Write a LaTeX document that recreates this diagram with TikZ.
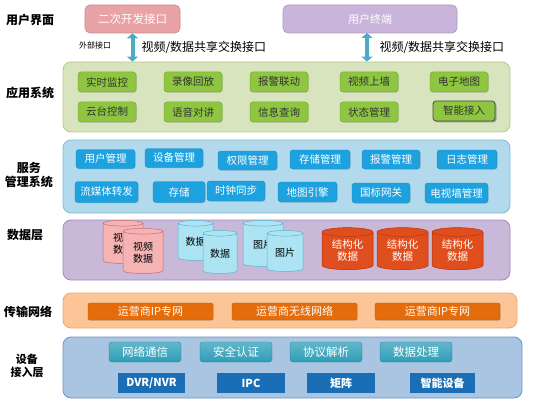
\documentclass[tikz,border=0pt]{standalone}
\usepackage{fontspec}
\setmainfont{Noto Sans CJK SC}
\usetikzlibrary{shapes.geometric,shadows,arrows.meta}
\definecolor{pinkbox}{HTML}{E9A3A7}
\definecolor{purplebox}{HTML}{C9B5DB}
\definecolor{arrowc}{HTML}{4BACC6}
\definecolor{appout}{HTML}{D7E4BD}
\definecolor{appoutd}{HTML}{B3CB8C}
\definecolor{appin}{HTML}{8EC641}
\definecolor{appind}{HTML}{76AD2E}
\definecolor{svcout}{HTML}{B2DAEC}
\definecolor{svcoutd}{HTML}{7DBCD8}
\definecolor{svcin}{HTML}{1EA2DF}
\definecolor{dataout}{HTML}{CAB8D9}
\definecolor{dataoutd}{HTML}{A08CBC}
\definecolor{pinkcyl}{HTML}{F6B3B4}
\definecolor{pinkcyld}{HTML}{C86A6C}
\definecolor{bluecyl}{HTML}{ADE4F4}
\definecolor{bluecyld}{HTML}{57B1CB}
\definecolor{orcyl}{HTML}{E04E1E}
\definecolor{orcyld}{HTML}{B43A12}
\definecolor{netout}{HTML}{FBC597}
\definecolor{netoutd}{HTML}{F0A86A}
\definecolor{netin}{HTML}{E46C0A}
\definecolor{devout}{HTML}{AAC5E2}
\definecolor{devoutd}{HTML}{6A96C4}
\definecolor{devin}{HTML}{2E9EB8}
\definecolor{devin2}{HTML}{1A6EB5}
\tikzset{
  layer/.style={rectangle, rounded corners=8pt, line width=0.8pt, inner sep=0pt},
  toplbl/.style={font=\bfseries\fontsize{12}{14}\selectfont, align=center, text=black},
  topbox/.style={rectangle, rounded corners=5pt, minimum height=28pt, text=white, font=\fontsize{11.5}{13}\selectfont, line width=0.6pt},
  appbox/.style={rectangle, rounded corners=3pt, minimum width=58pt, minimum height=20pt, fill=appin, draw=appind, line width=0.5pt, text=black!80, font=\fontsize{10.5}{12}\selectfont, drop shadow={shadow xshift=0.8pt, shadow yshift=-0.8pt, opacity=0.25}},
  svcbox/.style={rectangle, rounded corners=3pt, minimum height=19pt, fill=svcin, draw=svcin!85!black, line width=0.4pt, text=white, font=\fontsize{10.5}{12}\selectfont, drop shadow={shadow xshift=0.8pt, shadow yshift=-0.8pt, opacity=0.2}},
  netbox/.style={rectangle, rounded corners=2pt, minimum width=125pt, minimum height=17pt, fill=netin, draw=netin!85!black, line width=0.4pt, text=white, font=\fontsize{11}{13}\selectfont, drop shadow={shadow xshift=0.8pt, shadow yshift=-0.8pt, opacity=0.25}},
  devbox/.style={rectangle, rounded corners=3pt, minimum width=72pt, minimum height=20pt, top color=devin!75!white, bottom color=devin, draw=devin!85!black, line width=0.4pt, text=white, font=\fontsize{11.5}{13}\selectfont},
  devbox2/.style={rectangle, minimum height=20pt, fill=devin2, text=white, font=\bfseries\fontsize{11}{13}\selectfont},
  cyl/.style={cylinder, shape border rotate=90, aspect=0.28, line width=0.5pt, align=center, inner sep=0pt, font=\fontsize{10}{11.5}\selectfont},
  pcyl/.style={cyl, fill=pinkcyl, draw=pinkcyld, cylinder uses custom fill, cylinder body fill=pinkcyl, cylinder end fill=pinkcyl!70!white, text=black},
  bcyl/.style={cyl, fill=bluecyl, draw=bluecyld, cylinder uses custom fill, cylinder body fill=bluecyl, cylinder end fill=bluecyl!70!white, text=black},
  ocyl/.style={cyl, fill=orcyl, draw=orcyld, cylinder uses custom fill, cylinder body fill=orcyl, cylinder end fill=orcyl!80!white, text=white, minimum width=51pt, minimum height=42pt, font=\fontsize{10.5}{12}\selectfont},
  dblarrow/.style={line width=4pt, draw=arrowc, {Triangle[width=11pt,length=5pt]}-{Triangle[width=11pt,length=5pt]}},
}
\begin{document}
\begin{tikzpicture}[x=1pt,y=-1pt]
\useasboundingbox (0,0) rectangle (535,401);
\fill[white] (0,0) rectangle (535,401);

% left labels
\node[toplbl] (l1) at (30,20) {用户界面};
\node[toplbl] (l2) at (30,93) {应用系统};
\node[toplbl] (l3) at (29,175) {服务\\管理系统};
\node[toplbl] (l4) at (25,235) {数据层};
\node[toplbl] (l5) at (28,312) {传输网络};
\node[toplbl, font=\bfseries\fontsize{11}{12.5}\selectfont] (l6) at (27,366) {设备\\接入层};

% top row
\node[topbox, minimum width=95pt, fill=pinkbox, draw=pinkbox!85!black] (sdk) at (132.5,19) {二次开发接口};
\node[topbox, minimum width=174pt, fill=purplebox, draw=purplebox!85!black, font=\fontsize{11}{13}\selectfont] (term) at (370,19) {用户终端};

% layers
\node[layer, fill=appout, draw=appoutd, minimum width=447pt, minimum height=70pt] (app) at (286.5,97) {};
\node[layer, fill=svcout, draw=svcoutd, minimum width=447pt, minimum height=73pt] (svc) at (286.5,176.5) {};
\node[layer, fill=dataout, draw=dataoutd, minimum width=447pt, minimum height=60pt] (data) at (286.5,250) {};
\node[layer, fill=netout, draw=netoutd, minimum width=454pt, minimum height=35pt] (net) at (290,310.5) {};
\node[layer, fill=devout, draw=devoutd, minimum width=459pt, minimum height=61pt] (dev) at (292.5,367.5) {};

% arrows
\draw[dblarrow] (sdk.south) -- (sdk.south |- app.north);
\coordinate (termx) at (367,33);
\draw[dblarrow] (termx) -- (termx |- app.north);
\node[anchor=west, font=\fontsize{12}{14}\selectfont] (lbl1) at (138,47) {视频/数据共享交换接口};
\node[anchor=west, font=\fontsize{12}{14}\selectfont] (lbl2) at (376,47) {视频/数据共享交换接口};
\node[font=\fontsize{8}{9}\selectfont] (ext) at (95,45) {外部接口};

% application boxes
\node[appbox] (a1) at (107,82) {实时监控};
\node[appbox] (a2) at (193,82) {录像回放};
\node[appbox] (a3) at (279,82) {报警联动};
\node[appbox] (a4) at (369,82) {视频上墙};
\node[appbox] (a5) at (459,82) {电子地图};
\node[appbox] (a6) at (107,112) {云台控制};
\node[appbox] (a7) at (193,112) {语音对讲};
\node[appbox] (a8) at (279,112) {信息查询};
\node[appbox] (a9) at (369,112) {状态管理};
\node[appbox, draw=black!70, line width=0.8pt, drop shadow={shadow xshift=1.5pt, shadow yshift=-1.5pt, opacity=0.6}, minimum width=62pt] (a10) at (464,111) {智能接入};

% service boxes
\node[svcbox, minimum width=59pt] (s1) at (105.5,159) {用户管理};
\node[svcbox, minimum width=58pt] (s2) at (174,158) {设备管理};
\node[svcbox, minimum width=59pt] (s3) at (247.5,160.5) {权限管理};
\node[svcbox, minimum width=60pt] (s4) at (320,159.5) {存储管理};
\node[svcbox, minimum width=58pt] (s5) at (391,159.5) {报警管理};
\node[svcbox, minimum width=60pt] (s6) at (467,159.5) {日志管理};
\node[svcbox, minimum width=63pt, minimum height=21pt] (s7) at (106.5,192) {流媒体转发};
\node[svcbox, minimum width=52pt, minimum height=21pt] (s8) at (179,192) {存储};
\node[svcbox, minimum width=58pt, minimum height=20pt] (s9) at (236,191) {时钟同步};
\node[svcbox, minimum width=59pt, minimum height=20pt] (s10) at (307.5,192) {地图引擎};
\node[svcbox, minimum width=58pt, minimum height=20pt] (s11) at (381,193) {国标网关};
\node[svcbox, minimum width=63pt, minimum height=20pt] (s12) at (456.5,193) {电视墙管理};

% data cylinders
\node[pcyl, minimum width=40pt, minimum height=43pt] (c1) at (123,243.5) {视频\\数据};
\node[pcyl, minimum width=40pt, minimum height=45pt] (c2) at (143,252.5) {视频\\数据};
\node[bcyl, minimum width=35pt, minimum height=40pt] (c3) at (195.5,242) {数据};
\node[bcyl, minimum width=34pt, minimum height=43pt] (c4) at (220,253.5) {数据};
\node[bcyl, minimum width=40pt, minimum height=46pt] (c5) at (263,245) {图片};
\node[bcyl, minimum width=36pt, minimum height=41pt] (c6) at (285,252.5) {图片};
\node[ocyl] (c7) at (347.5,251) {结构化\\数据};
\node[ocyl] (c8) at (402.5,251) {结构化\\数据};
\node[ocyl] (c9) at (457.5,251) {结构化\\数据};

% network boxes
\node[netbox] (n1) at (150.5,311.5) {运营商IP专网};
\node[netbox] (n2) at (294.5,311.5) {运营商无线网络};
\node[netbox] (n3) at (437.5,311.5) {运营商IP专网};

% device boxes
\node[devbox] (d1) at (145,352) {网络通信};
\node[devbox] (d2) at (236,352) {安全认证};
\node[devbox] (d3) at (326,352) {协议解析};
\node[devbox] (d4) at (416,352) {数据处理};
\node[devbox2, minimum width=67pt] (d5) at (151.5,383) {DVR/NVR};
\node[devbox2, minimum width=68pt] (d6) at (251,383) {IPC};
\node[devbox2, minimum width=68pt] (d7) at (341,383) {矩阵};
\node[devbox2, minimum width=65pt] (d8) at (442.5,383) {智能设备};
\end{tikzpicture}
\end{document}
